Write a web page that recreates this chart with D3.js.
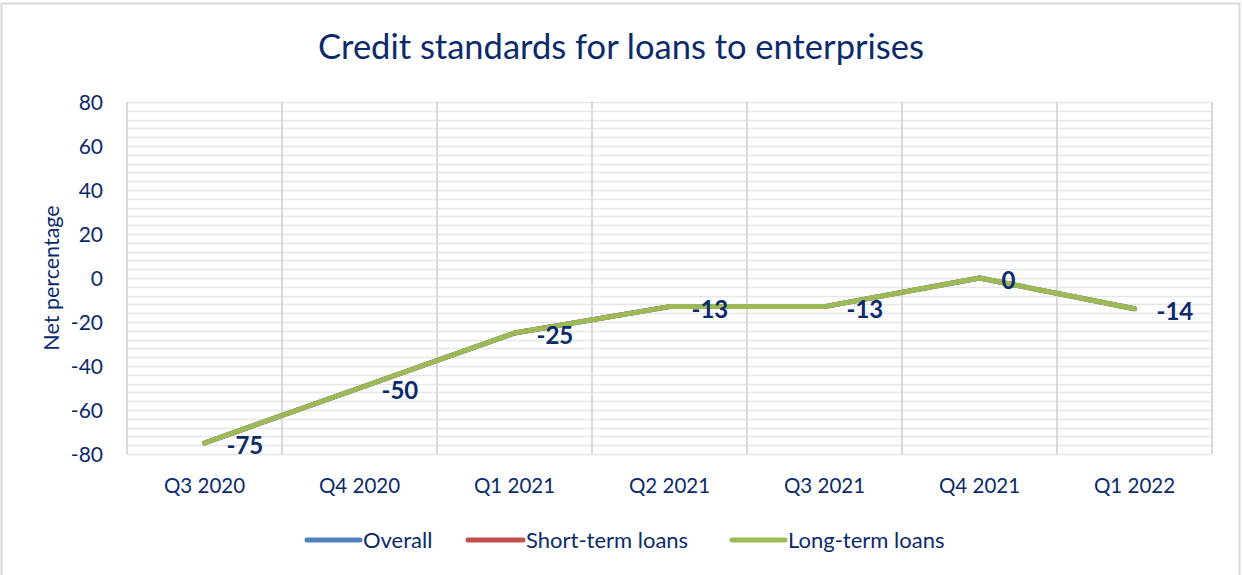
<!DOCTYPE html>
<html>
<head>
<meta charset="utf-8">
<script src="https://cdn.jsdelivr.net/npm/d3@7"></script>
<style>
  html, body { margin: 0; padding: 0; background: #fff; }
  svg { display: block; }
  text { font-family: Lato, "Open Sans", "Noto Sans", sans-serif; }
</style>
</head>
<body>
<svg id="chart" width="1242" height="575"></svg>
<script>
const categories = ["Q3 2020", "Q4 2020", "Q1 2021", "Q2 2021", "Q3 2021", "Q4 2021", "Q1 2022"];
const overall = [-75, -50, -25, -13, -13, 0, -14];
const shortTerm = [-75, -50, -25, -13, -13, 0, -14];
const longTerm = [-75, -50, -25, -13, -13, 0, -14];
const yTicks = [-80, -60, -40, -20, 0, 20, 40, 60, 80];
const seriesNames = ["Overall", "Short-term loans", "Long-term loans"];
const seriesColors = ["#4F81BD", "#C0504D", "#9BBB59"];
const title = "Credit standards for loans to enterprises";
const yTitle = "Net percentage";

const navy = "#0B2A6B";
const svg = d3.select("#chart");
const m = { left: 127, right: 1212, top: 102, bottom: 454 };

// outer border
svg.append("rect").attr("x", 1.5).attr("y", 3.5).attr("width", 1238).attr("height", 580)
  .attr("fill", "#fff").attr("stroke", "#D9D9D9").attr("stroke-width", 2);

const x = d3.scaleBand().domain(categories).range([m.left, m.right]).padding(0);
const y = d3.scaleLinear().domain([-80, 80]).range([m.bottom, m.top]);

// minor + major horizontal gridlines
const gridVals = d3.range(-80, 81, 4);
svg.append("g").selectAll("line").data(gridVals).join("line")
  .attr("x1", m.left).attr("x2", m.right)
  .attr("y1", d => Math.round(y(d)) + 0.5).attr("y2", d => Math.round(y(d)) + 0.5)
  .attr("stroke", "#E6E6E6").attr("stroke-width", 1.5);

// vertical gridlines at category boundaries
const vBounds = categories.map(c => x(c)).concat([m.right]);
svg.append("g").selectAll("line").data(vBounds).join("line")
  .attr("x1", d => d).attr("x2", d => d)
  .attr("y1", m.top).attr("y2", m.bottom)
  .attr("stroke", "#D9D9D9").attr("stroke-width", 2);

// title
svg.append("text").attr("x", 621).attr("y", 59).attr("text-anchor", "middle")
  .attr("font-size", 34.5).attr("fill", navy).text(title);

// y axis labels
const yAxis = d3.axisLeft(y).tickValues(yTicks).tickFormat(d => String(d)).tickSize(0).tickPadding(0);
const gy = svg.append("g").attr("transform", `translate(${m.left - 24},0)`).call(yAxis);
gy.select(".domain").remove();
gy.selectAll("text").attr("font-size", 21).attr("fill", navy)
  .style("font-family", "Lato, 'Open Sans', sans-serif").attr("dy", "0.35em");

// x axis labels
const xAxis = d3.axisBottom(x).tickSize(0).tickPadding(0);
const gx = svg.append("g").attr("transform", `translate(0,${m.bottom + 24})`).call(xAxis);
gx.select(".domain").remove();
gx.selectAll("text").attr("font-size", 20.5).attr("fill", navy)
  .style("font-family", "Lato, 'Open Sans', sans-serif").attr("dy", "0.72em");

// y title
svg.append("text").attr("transform", `translate(59,${(m.top + m.bottom) / 2}) rotate(-90)`)
  .attr("text-anchor", "middle").attr("font-size", 21.5).attr("fill", navy).text(yTitle);

// lines
const allSeries = [overall, shortTerm, longTerm];
const line = d3.line().x((d, i) => x(categories[i]) + x.bandwidth() / 2).y(d => y(d));
allSeries.forEach((s, k) => {
  svg.append("path").datum(s).attr("d", line)
    .attr("fill", "none").attr("stroke", seriesColors[k]).attr("stroke-width", 5)
    .attr("stroke-linecap", "round").attr("stroke-linejoin", "round");
});

// data labels (from the top series)
svg.append("g").selectAll("text").data(longTerm).join("text")
  .attr("x", (d, i) => x(categories[i]) + x.bandwidth() / 2 + 22)
  .attr("y", d => y(d) + 3)
  .attr("dy", "0.35em")
  .attr("font-size", 24).attr("font-weight", "bold").attr("fill", navy)
  .text(d => String(d));

// legend
const legendItems = [
  { name: seriesNames[0], color: seriesColors[0], x1: 307, x2: 360 },
  { name: seriesNames[1], color: seriesColors[1], x1: 468, x2: 523 },
  { name: seriesNames[2], color: seriesColors[2], x1: 732, x2: 785 }
];
const lg = svg.append("g");
legendItems.forEach(it => {
  lg.append("line").attr("x1", it.x1).attr("x2", it.x2).attr("y1", 540).attr("y2", 540)
    .attr("stroke", it.color).attr("stroke-width", 5).attr("stroke-linecap", "round");
  lg.append("text").attr("x", it.x2 + 3).attr("y", 540).attr("dy", "0.35em")
    .attr("font-size", 22).attr("fill", navy).text(it.name);
});
</script>
</body>
</html>
